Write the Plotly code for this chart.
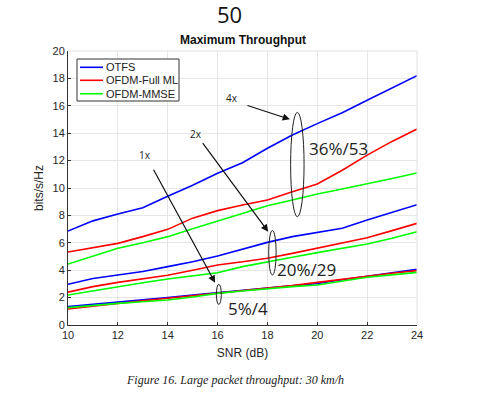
import plotly.graph_objects as go

snr = [10, 11, 12, 13, 14, 15, 16, 17, 18, 19, 20, 21, 22, 23, 24]

# 4x antennas
otfs_4x = [6.86, 7.6, 8.1, 8.56, 9.4, 10.2, 11.07, 11.85, 12.9, 13.87, 14.7, 15.5, 16.4, 17.3, 18.2]
ml_4x = [5.33, 5.67, 5.96, 6.45, 6.98, 7.8, 8.35, 8.76, 9.12, 9.73, 10.3, 11.3, 12.4, 13.4, 14.3]
mmse_4x = [4.45, 5.04, 5.6, 6.0, 6.45, 7.03, 7.6, 8.15, 8.7, 9.12, 9.56, 9.93, 10.3, 10.7, 11.1]
# 2x antennas
otfs_2x = [2.97, 3.4, 3.65, 3.9, 4.26, 4.62, 5.04, 5.52, 6.03, 6.45, 6.74, 7.06, 7.66, 8.2, 8.78]
ml_2x = [2.4, 2.8, 3.11, 3.36, 3.63, 4.0, 4.38, 4.62, 4.87, 5.23, 5.6, 5.96, 6.37, 6.89, 7.42]
mmse_2x = [2.19, 2.5, 2.8, 3.09, 3.36, 3.6, 3.82, 4.26, 4.62, 4.94, 5.28, 5.6, 5.91, 6.33, 6.81]
# 1x antenna
otfs_1x = [1.34, 1.5, 1.63, 1.83, 2.0, 2.18, 2.36, 2.52, 2.68, 2.85, 3.04, 3.3, 3.58, 3.82, 4.06]
ml_1x = [1.17, 1.38, 1.58, 1.77, 1.95, 2.13, 2.31, 2.5, 2.68, 2.88, 3.11, 3.35, 3.58, 3.78, 3.97]
mmse_1x = [1.27, 1.45, 1.58, 1.7, 1.82, 2.05, 2.31, 2.48, 2.65, 2.8, 2.92, 3.2, 3.48, 3.66, 3.84]

series_names = ["OTFS", "OFDM-Full ML", "OFDM-MMSE"]
series_colors = ["#0000ff", "#ff0000", "#00ff00"]
groups = [
    [otfs_4x, ml_4x, mmse_4x],
    [otfs_2x, ml_2x, mmse_2x],
    [otfs_1x, ml_1x, mmse_1x],
]

# arrow annotations: label, label position, arrow tail, arrow head
arrow_labels = ["4x", "2x", "1x"]
label_pos = [(16.56, 16.6), (15.13, 13.94), (13.09, 12.4)]
arrow_tail = [(17.14, 16.06), (15.36, 13.38), (13.4, 11.44)]
arrow_head = [(18.9, 15.01), (18.03, 6.81), (15.9, 3.09)]

# ellipses (x0, x1, y0, y1)
ellipses = [(18.93, 19.47, 7.9, 15.52), (18.05, 18.35, 3.65, 6.9), (15.95, 16.15, 1.5, 2.97)]
# gain texts
gain_texts = ["36%/53", "20%/29", "5%/4"]
gain_pos = [(20.84, 12.9), (19.57, 4.06), (17.23, 1.22)]

# plot-area geometry (pixels) used to place page-level texts
PL, PT, PW, PH = 68, 51, 349, 274


def px(x):
    return (x - PL) / PW


def py(y):
    return (PT + PH - y) / PH


fig = go.Figure()
for gi, grp in enumerate(groups):
    for si, vals in enumerate(grp):
        fig.add_trace(go.Scatter(
            x=snr, y=vals, mode="lines",
            line=dict(color=series_colors[si], width=1.6),
            name=series_names[si], legendgroup=series_names[si], showlegend=False,
        ))

for (lx, ly), lab in zip(label_pos, arrow_labels):
    fig.add_annotation(x=lx, y=ly, xref="x", yref="y", text=lab, showarrow=False,
                       font=dict(family="Open Sans", size=10, color="#222"))
for (tx, ty), (hx, hy) in zip(arrow_tail, arrow_head):
    fig.add_annotation(x=hx, y=hy, ax=tx, ay=ty, xref="x", yref="y", axref="x", ayref="y",
                       text="", showarrow=True, arrowhead=2, arrowsize=1.2, arrowwidth=1.2,
                       arrowcolor="#111")
for (x0, x1, y0, y1) in ellipses:
    fig.add_shape(type="circle", x0=x0, x1=x1, y0=y0, y1=y1, xref="x", yref="y",
                  line=dict(color="#222", width=1))
for (gx, gy), gt in zip(gain_pos, gain_texts):
    fig.add_annotation(x=gx, y=gy, xref="x", yref="y", text=gt, showarrow=False,
                       font=dict(family="Open Sans", size=17, color="#222"))

# page texts
fig.add_annotation(xref="paper", yref="paper", x=px(229), y=py(14), xanchor="center", yanchor="middle",
                   text="50", showarrow=False, font=dict(family="Open Sans", size=22, color="#111"))
fig.add_annotation(xref="paper", yref="paper", x=0.5, y=py(40), xanchor="center", yanchor="middle",
                   text="<b>Maximum Throughput</b>", showarrow=False,
                   font=dict(family="Liberation Sans", size=12, color="#111"))
fig.add_annotation(xref="paper", yref="paper", x=px(235), y=py(380), xanchor="center", yanchor="middle",
                   text="<i>Figure 16. Large packet throughput: 30 km/h</i>", showarrow=False,
                   font=dict(family="Liberation Serif", size=12, color="#222"))

# legend box (drawn)
fig.add_shape(type="rect", xref="paper", yref="paper", x0=px(77), x1=px(179), y0=py(101), y1=py(59),
              line=dict(color="#333", width=1), fillcolor="white", layer="above")
legend_rows = [67.3, 80.3, 93.7]
for name, col, ry in zip(series_names, series_colors, legend_rows):
    fig.add_shape(type="line", xref="paper", yref="paper", x0=px(80), x1=px(103), y0=py(ry), y1=py(ry),
                  line=dict(color=col, width=1.6), layer="above")
    fig.add_annotation(xref="paper", yref="paper", x=px(104), y=py(ry), xanchor="left", yanchor="middle",
                       text=name, showarrow=False, font=dict(family="Liberation Sans", size=11, color="#222"))

fig.update_layout(
    width=491, height=395,
    margin=dict(l=PL, r=491 - PL - PW, t=PT, b=395 - PT - PH),
    paper_bgcolor="white", plot_bgcolor="white",
    font=dict(family="Liberation Sans", size=11, color="#262626"),
    showlegend=False,
    xaxis=dict(range=[10, 24], dtick=2, showgrid=True, gridcolor="#e6e6e6",
               showline=True, linecolor="#333", linewidth=1, zeroline=False,
               ticks="inside", ticklen=3, tickcolor="#333",
               title=dict(text="SNR (dB)", standoff=8, font=dict(size=12))),
    yaxis=dict(range=[0, 20], dtick=2, showgrid=True, gridcolor="#e6e6e6",
               showline=True, linecolor="#333", linewidth=1, zeroline=False,
               ticks="inside", ticklen=3, tickcolor="#333",
               title=dict(text="bits/s/Hz", standoff=6, font=dict(size=12))),
)
# light frame top/right
fig.add_shape(type="line", xref="paper", yref="paper", x0=0, x1=1, y0=1, y1=1,
              line=dict(color="#e0e0e0", width=1))
fig.add_shape(type="line", xref="paper", yref="paper", x0=1, x1=1, y0=0, y1=1,
              line=dict(color="#e0e0e0", width=1))

fig.write_html("out.html", config={"displayModeBar": False},
               post_script="document.body.style.margin='0px';")
